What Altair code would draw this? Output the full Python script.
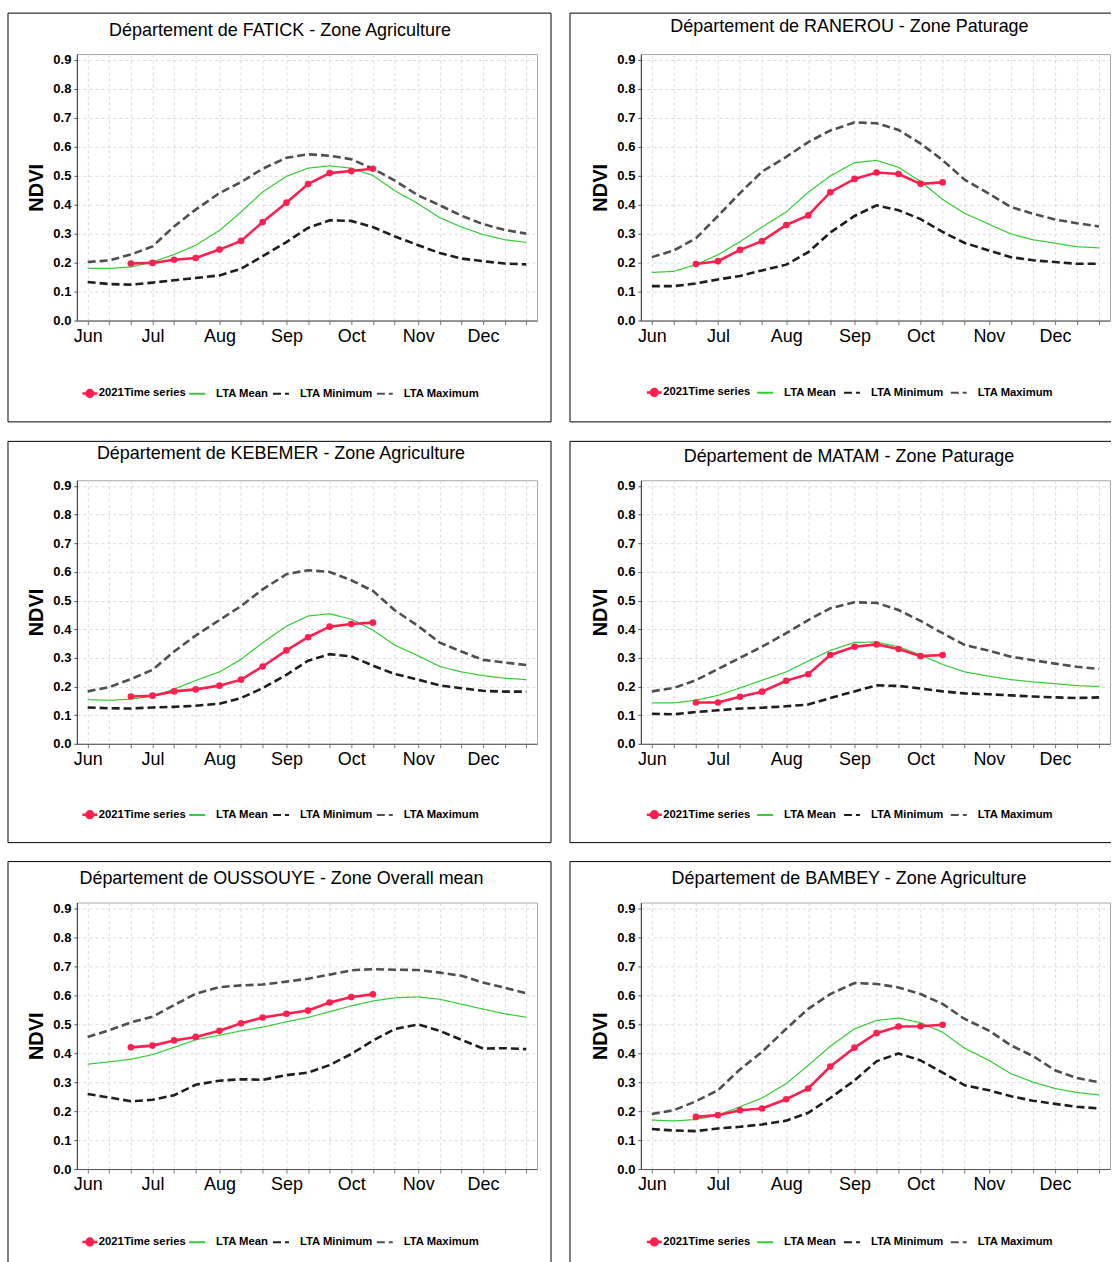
import altair as alt
import pandas as pd

# ---------------- data ----------------
MONTH_DAYS = [(m, d) for m in range(6, 13) for d in (1, 11, 21)]   # 21 dekads, Jun 1 .. Dec 21
DATES = [f"2021-{m:02d}-{d:02d}T00:00:00" for m, d in MONTH_DAYS]
TS_START = 2          # 2021 series starts at the 3rd dekad of June

SERIES_TS = "2021Time series"
SERIES_LTA = ["LTA Mean", "LTA Minimum", "LTA Maximum"]

TITLES = [
    "Département de FATICK - Zone Agriculture",
    "Département de RANEROU - Zone Paturage",
    "Département de KEBEMER - Zone Agriculture",
    "Département de MATAM - Zone Paturage",
    "Département de OUSSOUYE - Zone Overall mean",
    "Département de BAMBEY - Zone Agriculture",
]

fatick_max = [0.202, 0.208, 0.228, 0.256, 0.325, 0.383, 0.440, 0.478, 0.524, 0.562, 0.574, 0.569, 0.557, 0.524, 0.484, 0.432, 0.398, 0.362, 0.333, 0.313, 0.300]
fatick_mean = [0.180, 0.180, 0.185, 0.202, 0.228, 0.260, 0.311, 0.375, 0.444, 0.498, 0.526, 0.534, 0.526, 0.501, 0.449, 0.403, 0.355, 0.323, 0.297, 0.279, 0.270]
fatick_min = [0.133, 0.126, 0.124, 0.131, 0.139, 0.147, 0.156, 0.179, 0.222, 0.271, 0.320, 0.346, 0.344, 0.323, 0.291, 0.260, 0.233, 0.214, 0.205, 0.197, 0.194]
fatick_ts = [0.197, 0.199, 0.210, 0.216, 0.245, 0.275, 0.340, 0.407, 0.471, 0.509, 0.516, 0.524]

ranerou_max = [0.219, 0.242, 0.284, 0.361, 0.440, 0.514, 0.565, 0.616, 0.656, 0.684, 0.681, 0.658, 0.611, 0.554, 0.486, 0.438, 0.392, 0.369, 0.349, 0.336, 0.325]
ranerou_mean = [0.166, 0.170, 0.193, 0.227, 0.272, 0.323, 0.375, 0.443, 0.499, 0.545, 0.553, 0.529, 0.480, 0.418, 0.370, 0.333, 0.299, 0.279, 0.267, 0.255, 0.251]
ranerou_min = [0.119, 0.119, 0.128, 0.142, 0.154, 0.173, 0.193, 0.236, 0.304, 0.361, 0.398, 0.381, 0.350, 0.306, 0.268, 0.242, 0.219, 0.208, 0.202, 0.196, 0.196]
ranerou_ts = [0.195, 0.205, 0.244, 0.274, 0.330, 0.363, 0.443, 0.489, 0.511, 0.506, 0.472, 0.477]

kebemer_max = [0.183, 0.198, 0.226, 0.258, 0.322, 0.378, 0.432, 0.481, 0.539, 0.592, 0.606, 0.600, 0.571, 0.534, 0.467, 0.411, 0.353, 0.322, 0.293, 0.284, 0.275]
kebemer_mean = [0.154, 0.152, 0.156, 0.166, 0.191, 0.221, 0.251, 0.295, 0.353, 0.411, 0.446, 0.454, 0.435, 0.397, 0.345, 0.307, 0.270, 0.251, 0.238, 0.229, 0.224]
kebemer_min = [0.127, 0.124, 0.123, 0.127, 0.129, 0.133, 0.140, 0.160, 0.194, 0.241, 0.290, 0.313, 0.305, 0.273, 0.244, 0.224, 0.204, 0.194, 0.185, 0.182, 0.182]
kebemer_ts = [0.165, 0.168, 0.183, 0.190, 0.203, 0.224, 0.270, 0.326, 0.372, 0.409, 0.418, 0.423]

matam_max = [0.183, 0.195, 0.222, 0.261, 0.300, 0.339, 0.386, 0.432, 0.473, 0.494, 0.492, 0.467, 0.429, 0.386, 0.345, 0.325, 0.304, 0.292, 0.280, 0.269, 0.261]
matam_mean = [0.143, 0.143, 0.152, 0.169, 0.195, 0.222, 0.251, 0.289, 0.326, 0.354, 0.355, 0.339, 0.310, 0.277, 0.251, 0.236, 0.224, 0.216, 0.210, 0.203, 0.200]
matam_min = [0.105, 0.103, 0.111, 0.117, 0.123, 0.126, 0.131, 0.137, 0.160, 0.183, 0.204, 0.202, 0.193, 0.183, 0.176, 0.173, 0.169, 0.165, 0.162, 0.160, 0.162]
matam_ts = [0.144, 0.144, 0.164, 0.182, 0.220, 0.243, 0.310, 0.339, 0.347, 0.331, 0.306, 0.310]

oussouye_max = [0.456, 0.479, 0.506, 0.526, 0.566, 0.605, 0.628, 0.634, 0.637, 0.647, 0.657, 0.671, 0.686, 0.690, 0.688, 0.687, 0.678, 0.667, 0.644, 0.626, 0.607]
oussouye_mean = [0.362, 0.370, 0.379, 0.395, 0.420, 0.446, 0.462, 0.477, 0.490, 0.508, 0.523, 0.543, 0.563, 0.580, 0.591, 0.594, 0.586, 0.569, 0.552, 0.536, 0.524]
oussouye_min = [0.259, 0.247, 0.234, 0.239, 0.255, 0.291, 0.305, 0.310, 0.308, 0.324, 0.333, 0.359, 0.397, 0.443, 0.483, 0.499, 0.477, 0.446, 0.416, 0.417, 0.414]
oussouye_ts = [0.420, 0.426, 0.444, 0.456, 0.477, 0.503, 0.523, 0.536, 0.547, 0.575, 0.594, 0.603]

bambey_max = [0.190, 0.203, 0.234, 0.272, 0.344, 0.404, 0.484, 0.553, 0.604, 0.642, 0.639, 0.627, 0.604, 0.570, 0.518, 0.478, 0.427, 0.390, 0.341, 0.314, 0.300]
bambey_mean = [0.169, 0.166, 0.171, 0.186, 0.215, 0.245, 0.295, 0.358, 0.424, 0.484, 0.513, 0.521, 0.505, 0.472, 0.417, 0.375, 0.329, 0.300, 0.278, 0.264, 0.256]
bambey_min = [0.138, 0.133, 0.131, 0.140, 0.146, 0.154, 0.167, 0.194, 0.245, 0.306, 0.372, 0.399, 0.375, 0.333, 0.289, 0.272, 0.251, 0.236, 0.225, 0.215, 0.209]
bambey_ts = [0.180, 0.186, 0.203, 0.209, 0.241, 0.278, 0.354, 0.419, 0.469, 0.492, 0.493, 0.498]

Y_TICKS = [round(i * 0.1, 1) for i in range(10)]

# ---------------- styles ----------------
RED = "#ff1f4f"
GREEN = "#33cc33"
BLACK = "#1e1e1e"
GRAY = "#4f4f4f"
FONT = "Liberation Sans, Arial, sans-serif"
DOT_LINE = ("M-1,0H1"
            "M-0.45,0a0.45,0.45 0 1,0 0.9,0a0.45,0.45 0 1,0 -0.9,0"
            "M-0.25,0a0.25,0.25 0 1,0 0.5,0a0.25,0.25 0 1,0 -0.5,0"
            "M-0.08,0a0.08,0.08 0 1,0 0.16,0a0.08,0.08 0 1,0 -0.16,0")


def make_df(mean, vmin, vmax, ts):
    rows = []
    for i, d in enumerate(DATES):
        rows.append({"date": d, "series": "LTA Mean", "value": mean[i]})
        rows.append({"date": d, "series": "LTA Minimum", "value": vmin[i]})
        rows.append({"date": d, "series": "LTA Maximum", "value": vmax[i]})
    for j, v in enumerate(ts):
        rows.append({"date": DATES[TS_START + j], "series": SERIES_TS, "value": v})
    return pd.DataFrame(rows)


def one_row():
    return alt.Data(values=[{"k": 0}])


def edge(x1, y1, x2, y2):
    return alt.Chart(one_row()).mark_rule(color="black", strokeWidth=1).encode(
        x=alt.value(x1), y=alt.value(y1), x2=alt.value(x2), y2=alt.value(y2))


def panel(title, df, w, h, g):
    x_enc = alt.X(
        "date:T", title=None,
        scale=alt.Scale(domain=[alt.DateTime(year=2021, month=5, date=27),
                                alt.DateTime(year=2021, month=12, date=26)]),
        axis=alt.Axis(values=[alt.DateTime(year=2021, month=m, date=d) for m, d in MONTH_DAYS],
                      labelExpr="date(datum.value) == 1 ? timeFormat(datum.value, '%b') : ''",
                      labelFont=FONT, labelFontSize=18, labelColor="black",
                      labelPadding=3, tickSize=4, labelOverlap=False, labelFlush=False,
                      grid=True, domainColor="#555555", tickColor="#777777"))
    y_enc = alt.Y(
        "value:Q",
        scale=alt.Scale(domain=[0, 0.92], nice=False, zero=True),
        axis=alt.Axis(values=Y_TICKS, format=".1f", title="NDVI",
                      labelFont=FONT, labelFontSize=13, labelFontWeight="bold",
                      labelColor="black", labelPadding=3, tickSize=3,
                      titleFont=FONT, titleFontSize=20, titleFontWeight="bold",
                      titleColor="black", titlePadding=6, grid=True,
                      domainColor="#333333", tickColor="#555555"))

    base = alt.Chart(df).encode(x=x_enc, y=y_enc)

    leg_b = alt.Legend(orient="none", legendX=g["lbx"], legendY=g["ly"], direction="horizontal",
                       title=None, symbolType="stroke", symbolSize=256, symbolStrokeWidth=2,
                       labelFont=FONT, labelFontSize=11.3, labelFontWeight="bold",
                       labelColor="black", labelOffset=10, columnPadding=g["cp"], padding=0)
    leg_a = alt.Legend(orient="none", legendX=g["lax"], legendY=g["ly"], direction="horizontal",
                       title=None, symbolType=DOT_LINE, symbolSize=225, symbolStrokeWidth=2.5,
                       symbolFillColor=RED,
                       labelFont=FONT, labelFontSize=11.3, labelFontWeight="bold",
                       labelColor="black", labelOffset=0, padding=0)

    lta = base.transform_filter(
        alt.FieldOneOfPredicate(field="series", oneOf=SERIES_LTA)
    ).mark_line().encode(
        color=alt.Color("series:N", scale=alt.Scale(domain=SERIES_LTA, range=[GREEN, BLACK, GRAY]),
                        legend=leg_b),
        strokeDash=alt.StrokeDash("series:N",
                                  scale=alt.Scale(domain=SERIES_LTA, range=[[1, 0], [8, 4], [8, 4]]),
                                  legend=leg_b),
        strokeWidth=alt.condition("datum.series == 'LTA Mean'", alt.value(1.2), alt.value(2.6)),
    )

    ts_filter = alt.FieldEqualPredicate(field="series", equal=SERIES_TS)
    ts_line = base.transform_filter(ts_filter).mark_line(strokeWidth=2.6).encode(
        stroke=alt.Stroke("series:N", scale=alt.Scale(domain=[SERIES_TS], range=[RED]), legend=leg_a)
    )
    ts_pts = base.transform_filter(ts_filter).mark_circle(size=44, color=RED, opacity=1)

    title_txt = alt.Chart(pd.DataFrame({"t": [title]})).mark_text(
        font=FONT, fontSize=18, color="black", align="center", baseline="middle"
    ).encode(x=alt.value(g["tx"]), y=alt.value(g["ty"]), text="t:N")

    L, R, T, B = g["fl"], g["fr"], g["ft"], g["fb"]
    frame = [edge(L, T, L, B)]                      # left
    frame.append(edge(L, T, R if R is not None else w + 1, T))   # top
    if R is not None:
        frame.append(edge(R, T, R, B))              # right
    if g["bottom"]:
        frame.append(edge(L, B, R if R is not None else w + 1, B))  # bottom

    return alt.layer(*frame, title_txt, lta, ts_line, ts_pts).properties(width=w, height=h)


WL, WR = 461, 470
H1, H2, H3 = 267, 264, 267

G = [
    dict(fl=-69, fr=475, ft=-41, fb=368.5, bottom=True, tx=203.5, ty=-23, ly=331, lax=4, lbx=111.5, cp=0),
    dict(fl=-71, fr=None, ft=-41, fb=368.5, bottom=True, tx=209, ty=-27.5, ly=330, lax=4.5, lbx=115.5, cp=3),
    dict(fl=-69, fr=475, ft=-39, fb=363, bottom=True, tx=204.5, ty=-26, ly=326, lax=4, lbx=111.5, cp=0),
    dict(fl=-71, fr=None, ft=-39, fb=363, bottom=True, tx=208.5, ty=-23, ly=326, lax=4.5, lbx=115.5, cp=3),
    dict(fl=-69, fr=475, ft=-41, fb=361, bottom=False, tx=205, ty=-24, ly=331, lax=4, lbx=111.5, cp=0),
    dict(fl=-71, fr=None, ft=-41, fb=361, bottom=False, tx=208.5, ty=-24, ly=331, lax=4.5, lbx=115.5, cp=3),
]

DATA = [
    (fatick_mean, fatick_min, fatick_max, fatick_ts),
    (ranerou_mean, ranerou_min, ranerou_max, ranerou_ts),
    (kebemer_mean, kebemer_min, kebemer_max, kebemer_ts),
    (matam_mean, matam_min, matam_max, matam_ts),
    (oussouye_mean, oussouye_min, oussouye_max, oussouye_ts),
    (bambey_mean, bambey_min, bambey_max, bambey_ts),
]
WIDTHS = [WL, WR, WL, WR, WL, WR]
HEIGHTS = [H1, H1, H2, H2, H3, H3]

panels = [panel(TITLES[i], make_df(*DATA[i]), WIDTHS[i], HEIGHTS[i], G[i]) for i in range(6)]

IND = dict(color="independent", stroke="independent", strokeDash="independent")


def row(a, b):
    return alt.hconcat(a, b, spacing=17).resolve_scale(**IND).resolve_legend(**IND)


chart = alt.vconcat(
    row(panels[0], panels[1]), row(panels[2], panels[3]), row(panels[4], panels[5]), spacing=17
).resolve_scale(**IND).resolve_legend(**IND).properties(
    padding={"left": 7, "top": 11, "right": 0, "bottom": 0}
).configure_view(
    stroke="#a8a8a8", strokeWidth=1
).configure_axis(
    gridColor="#dadada", gridDash=[3, 3], gridWidth=1
)

chart.save("out.html", embed_options={"renderer": "svg", "actions": False})
